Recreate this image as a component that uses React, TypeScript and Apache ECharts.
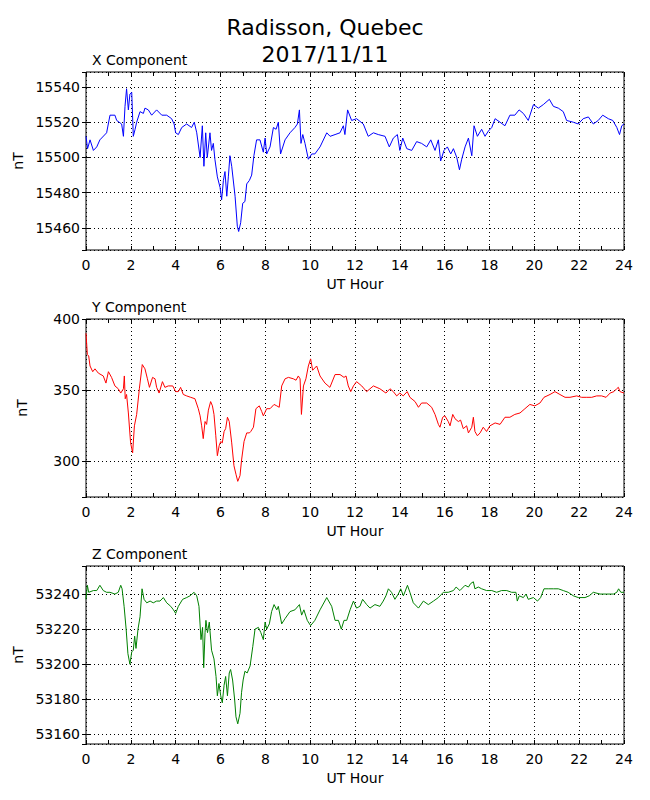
import React, { useEffect, useRef } from "react";
import * as echarts from "echarts";

const FONT = "DejaVu Sans";

const titleLines = ["Radisson, Quebec", "2017/11/11"];
const panelTitles = ["X Component", "Y Component", "Z Component"];
const xAxisName = "UT Hour";
const yAxisName = "nT";

// [UT hour, nT]
const xComponent: [number, number][] = [
  [0, 15512], [0.07, 15505], [0.18, 15510], [0.33, 15504], [0.48, 15506], [0.62, 15510], [0.92, 15514], [1.07, 15524],
  [1.29, 15524], [1.37, 15521], [1.59, 15519], [1.67, 15512], [1.74, 15529], [1.81, 15539], [1.89, 15527], [1.96, 15536],
  [2.04, 15537], [2.11, 15512], [2.19, 15516], [2.26, 15520], [2.41, 15526], [2.56, 15525], [2.63, 15528], [2.78, 15527],
  [2.93, 15524], [3.15, 15527], [3.38, 15524], [3.6, 15524], [3.82, 15522], [3.93, 15519], [4.0, 15514], [4.12, 15513],
  [4.27, 15517], [4.49, 15519], [4.71, 15517], [4.83, 15520], [4.94, 15514], [5.09, 15500], [5.19, 15518], [5.26, 15495],
  [5.34, 15514], [5.41, 15500], [5.53, 15514], [5.6, 15504], [5.68, 15508], [5.75, 15499], [5.86, 15489], [5.98, 15483],
  [6.05, 15476], [6.13, 15487], [6.2, 15492], [6.28, 15478], [6.35, 15489], [6.42, 15501], [6.5, 15495], [6.65, 15478],
  [6.75, 15461], [6.81, 15458], [6.9, 15463], [6.99, 15474], [7.09, 15475], [7.17, 15485], [7.29, 15487], [7.39, 15490],
  [7.49, 15501], [7.61, 15510], [7.76, 15510], [7.91, 15503], [7.99, 15511], [8.06, 15502], [8.21, 15506], [8.36, 15517],
  [8.48, 15516], [8.58, 15520], [8.68, 15502], [8.88, 15510], [9.1, 15514], [9.32, 15517], [9.43, 15519], [9.52, 15527],
  [9.59, 15508], [9.67, 15513], [9.77, 15508], [9.92, 15499], [10.07, 15502], [10.21, 15502], [10.44, 15506], [10.74, 15514],
  [10.89, 15512], [11.11, 15513], [11.33, 15514], [11.48, 15518], [11.55, 15513], [11.67, 15527], [11.85, 15521], [12.07, 15522],
  [12.37, 15519], [12.59, 15512], [12.82, 15514], [13.04, 15513], [13.34, 15512], [13.53, 15506], [13.71, 15511], [13.89, 15513],
  [14.0, 15504], [14.13, 15511], [14.31, 15505], [14.53, 15504], [14.75, 15509], [14.97, 15508], [15.2, 15506], [15.38, 15510],
  [15.57, 15504], [15.72, 15510], [15.82, 15498], [15.97, 15504], [16.12, 15506], [16.27, 15502], [16.39, 15505], [16.54, 15500],
  [16.66, 15493], [16.76, 15499], [16.91, 15506], [17.06, 15511], [17.21, 15501], [17.31, 15518], [17.46, 15512], [17.65, 15516],
  [17.8, 15512], [17.95, 15515], [18.1, 15517], [18.25, 15522], [18.47, 15520], [18.69, 15518], [18.91, 15524], [19.13, 15524],
  [19.32, 15527], [19.51, 15525], [19.73, 15521], [19.96, 15530], [20.18, 15528], [20.4, 15530], [20.67, 15533], [20.85, 15529],
  [21.07, 15528], [21.29, 15526], [21.44, 15521], [21.74, 15520], [21.96, 15519], [22.18, 15522], [22.41, 15523], [22.63, 15519],
  [22.85, 15521], [23.05, 15524], [23.3, 15522], [23.5, 15521], [23.68, 15517], [23.8, 15513], [23.9, 15518], [24, 15519],
];

const yComponent: [number, number][] = [
  [0, 390], [0.06, 375], [0.12, 374], [0.18, 367], [0.3, 363], [0.4, 365], [0.55, 362], [0.77, 360], [0.89, 355], [1.0, 363],
  [1.14, 359], [1.29, 353], [1.44, 351], [1.55, 348], [1.67, 351], [1.71, 360], [1.75, 344], [1.81, 347], [1.89, 334], [1.99, 313],
  [2.08, 306], [2.16, 325], [2.26, 333], [2.38, 351], [2.51, 368], [2.63, 365], [2.74, 358], [2.83, 352], [2.97, 359], [3.08, 358],
  [3.15, 352], [3.26, 348], [3.41, 356], [3.52, 352], [3.67, 353], [3.87, 353], [4.0, 349], [4.12, 349], [4.22, 352], [4.34, 347],
  [4.49, 346], [4.67, 345], [4.86, 344], [5.01, 337], [5.09, 332], [5.16, 325], [5.23, 316], [5.31, 328], [5.38, 326], [5.46, 336],
  [5.56, 342], [5.64, 339], [5.71, 333], [5.79, 318], [5.86, 304], [5.94, 311], [6.01, 314], [6.08, 313], [6.16, 321], [6.23, 323],
  [6.31, 331], [6.39, 328], [6.5, 313], [6.6, 297], [6.69, 291], [6.77, 286], [6.87, 290], [6.94, 301], [7.05, 314], [7.17, 320],
  [7.29, 320], [7.35, 321], [7.47, 324], [7.58, 337], [7.73, 339], [7.84, 335], [7.91, 332], [8.06, 337], [8.21, 337], [8.39, 340],
  [8.51, 339], [8.62, 338], [8.73, 353], [8.88, 358], [9.03, 359], [9.25, 358], [9.37, 357], [9.47, 360], [9.55, 358], [9.61, 333],
  [9.7, 353], [9.81, 358], [9.92, 367], [10.02, 372], [10.11, 364], [10.29, 367], [10.44, 360], [10.66, 355], [10.88, 352], [11.11, 361],
  [11.33, 361], [11.51, 359], [11.6, 360], [11.7, 353], [11.81, 349], [11.93, 353], [12.07, 356], [12.3, 353], [12.52, 349], [12.82, 353],
  [13.11, 351], [13.38, 348], [13.56, 351], [13.71, 349], [13.86, 346], [14.0, 348], [14.15, 346], [14.33, 349], [14.45, 345], [14.68, 342],
  [14.83, 338], [14.97, 341], [15.2, 341], [15.42, 338], [15.57, 333], [15.72, 326], [15.79, 324], [15.91, 331], [16.01, 332], [16.16, 328],
  [16.24, 325], [16.36, 333], [16.46, 330], [16.61, 328], [16.71, 329], [16.83, 323], [16.98, 325], [17.06, 320], [17.21, 324], [17.28, 331],
  [17.35, 321], [17.46, 318], [17.58, 320], [17.72, 324], [17.87, 321], [18.02, 325], [18.25, 327], [18.47, 326], [18.69, 331], [18.91, 331],
  [19.13, 333], [19.36, 334], [19.58, 337], [19.8, 340], [20.02, 339], [20.25, 341], [20.43, 345], [20.7, 347], [20.92, 349], [21.14, 347],
  [21.37, 345], [21.59, 345], [21.89, 346], [22.11, 345], [22.34, 345], [22.56, 345], [22.78, 346], [23.0, 346], [23.2, 345], [23.38, 348],
  [23.55, 349], [23.67, 351], [23.75, 352], [23.82, 349], [24, 348],
];

const zComponent: [number, number][] = [
  [0, 53237], [0.06, 53245], [0.12, 53241], [0.33, 53242], [0.48, 53242], [0.62, 53245], [0.77, 53242], [0.92, 53241], [1.07, 53241],
  [1.29, 53240], [1.44, 53241], [1.55, 53245], [1.61, 53243], [1.7, 53233], [1.79, 53220], [1.87, 53206], [1.96, 53200], [2.04, 53207],
  [2.11, 53208], [2.17, 53216], [2.23, 53209], [2.32, 53220], [2.41, 53227], [2.5, 53243], [2.59, 53237], [2.71, 53235], [2.86, 53236],
  [3.0, 53235], [3.15, 53236], [3.3, 53236], [3.45, 53238], [3.6, 53235], [3.78, 53233], [3.9, 53231], [4.0, 53229], [4.12, 53233],
  [4.31, 53237], [4.49, 53238], [4.64, 53239], [4.82, 53241], [4.94, 53239], [5.04, 53233], [5.13, 53214], [5.2, 53221], [5.25, 53198],
  [5.31, 53218], [5.35, 53225], [5.42, 53218], [5.5, 53224], [5.6, 53208], [5.71, 53203], [5.8, 53193], [5.86, 53182], [5.93, 53189],
  [6.01, 53182], [6.08, 53178], [6.16, 53188], [6.23, 53193], [6.31, 53182], [6.39, 53195], [6.45, 53197], [6.54, 53191], [6.63, 53180],
  [6.69, 53170], [6.77, 53166], [6.87, 53172], [6.94, 53184], [7.01, 53191], [7.09, 53196], [7.19, 53195], [7.32, 53199], [7.44, 53210],
  [7.54, 53220], [7.69, 53221], [7.8, 53218], [7.91, 53214], [7.99, 53224], [8.06, 53220], [8.18, 53223], [8.28, 53230], [8.39, 53234],
  [8.51, 53231], [8.58, 53233], [8.73, 53223], [8.88, 53226], [9.1, 53230], [9.32, 53231], [9.52, 53234], [9.62, 53228], [9.72, 53231],
  [9.87, 53225], [10.02, 53222], [10.21, 53225], [10.44, 53231], [10.74, 53238], [10.96, 53233], [11.11, 53225], [11.26, 53225], [11.39, 53220],
  [11.51, 53225], [11.63, 53225], [11.78, 53231], [11.93, 53236], [12.07, 53232], [12.22, 53233], [12.34, 53237], [12.52, 53234], [12.67, 53232],
  [12.89, 53234], [13.11, 53233], [13.26, 53236], [13.38, 53239], [13.49, 53243], [13.63, 53241], [13.78, 53237], [13.93, 53240], [14.04, 53243],
  [14.16, 53239], [14.34, 53245], [14.45, 53241], [14.6, 53235], [14.83, 53232], [15.05, 53236], [15.27, 53234], [15.5, 53236], [15.72, 53238],
  [15.94, 53241], [16.16, 53241], [16.39, 53242], [16.51, 53244], [16.68, 53242], [16.91, 53245], [17.06, 53244], [17.16, 53246], [17.28, 53247],
  [17.35, 53243], [17.5, 53244], [17.65, 53243], [17.87, 53242], [18.1, 53242], [18.32, 53241], [18.54, 53242], [18.77, 53242], [18.99, 53241],
  [19.18, 53241], [19.24, 53236], [19.33, 53239], [19.51, 53238], [19.63, 53240], [19.73, 53237], [19.96, 53238], [20.14, 53236], [20.28, 53238],
  [20.43, 53243], [20.62, 53243], [20.85, 53243], [21.07, 53243], [21.29, 53242], [21.51, 53241], [21.74, 53239], [21.96, 53238], [22.26, 53238],
  [22.45, 53239], [22.63, 53241], [22.93, 53240], [23.23, 53240], [23.53, 53240], [23.68, 53241], [23.76, 53243], [23.86, 53241], [24, 53241],
];

const seriesData = [xComponent, yComponent, zComponent];
const seriesColors = ["#0000ff", "#ff0000", "#008000"];
const yRanges: [number, number][] = [
  [15447.5, 15548.5],
  [275, 400],
  [53154.5, 53256],
];
const ySplitNumbers = [5, 3, 5];
const showMaxYLabel = [false, true, false];

const GRID_TOPS = [72, 319, 566];
const GRID_LEFT = 86;
const GRID_WIDTH = 538;
const GRID_HEIGHT = 178;

function buildOption() {
  const tick = { show: true, inside: true, length: 4, lineStyle: { color: "#000", width: 1 } };
  const minor = { show: true, splitNumber: 2, length: 4, lineStyle: { color: "#000", width: 1 } };
  const grid = { show: true, lineStyle: { color: "#000", width: 1, type: [1, 3] } };
  const label = { color: "#000", fontSize: 14, fontFamily: FONT, formatter: (v: number) => String(v) };
  const nameStyle = { color: "#000", fontSize: 14, fontFamily: FONT };

  const grids: any[] = [];
  const xAxes: any[] = [];
  const yAxes: any[] = [];
  const series: any[] = [];
  const titles: any[] = titleLines.map((t, k) => ({
    text: t,
    left: "center",
    top: 16 + k * 27,
    padding: 0,
    textStyle: { fontFamily: FONT, fontSize: 22, fontWeight: "normal", color: "#000" },
  }));

  for (let i = 0; i < 3; i++) {
    grids.push({
      left: GRID_LEFT,
      top: GRID_TOPS[i],
      width: GRID_WIDTH,
      height: GRID_HEIGHT,
      show: true,
      borderColor: "#000",
      borderWidth: 1,
      backgroundColor: "transparent",
    });
    titles.push({
      text: panelTitles[i],
      left: 92,
      top: GRID_TOPS[i] - 19,
      padding: 0,
      textStyle: { fontFamily: FONT, fontSize: 14, fontWeight: "normal", color: "#000" },
    });
    xAxes.push({
      type: "value",
      gridIndex: i,
      min: 0,
      max: 24,
      interval: 2,
      position: "bottom",
      axisLine: { show: false },
      axisTick: tick,
      minorTick: minor,
      axisLabel: { ...label, margin: 8 },
      splitLine: grid,
      name: xAxisName,
      nameLocation: "middle",
      nameGap: 27,
      nameTextStyle: nameStyle,
    });
    xAxes.push({
      type: "value",
      gridIndex: i,
      min: 0,
      max: 24,
      interval: 2,
      position: "top",
      axisLine: { show: false },
      axisTick: tick,
      minorTick: minor,
      axisLabel: { show: false },
      splitLine: { show: false },
    });
    const [ymin, ymax] = yRanges[i];
    yAxes.push({
      type: "value",
      gridIndex: i,
      min: ymin,
      max: ymax,
      splitNumber: ySplitNumbers[i],
      position: "left",
      axisLine: { show: false },
      axisTick: tick,
      axisLabel: { ...label, margin: 6, showMinLabel: false, showMaxLabel: showMaxYLabel[i] },
      splitLine: grid,
      name: yAxisName,
      nameLocation: "middle",
      nameGap: 57,
      nameRotate: 90,
      nameTextStyle: nameStyle,
    });
    yAxes.push({
      type: "value",
      gridIndex: i,
      min: ymin,
      max: ymax,
      splitNumber: ySplitNumbers[i],
      position: "right",
      axisLine: { show: false },
      axisTick: tick,
      axisLabel: { show: false },
      splitLine: { show: false },
    });
    series.push({
      type: "line",
      xAxisIndex: 2 * i,
      yAxisIndex: 2 * i,
      data: seriesData[i],
      showSymbol: false,
      symbol: "none",
      lineStyle: { color: seriesColors[i], width: 1 },
      itemStyle: { color: seriesColors[i] },
      z: 5,
    });
  }

  return {
    animation: false,
    backgroundColor: "#ffffff",
    title: titles,
    grid: grids,
    xAxis: xAxes,
    yAxis: yAxes,
    series,
  };
}

export default function App() {
  const ref = useRef<HTMLDivElement>(null);
  useEffect(() => {
    if (!ref.current) return;
    const chart = echarts.init(ref.current, null, { renderer: "svg" });
    chart.setOption(buildOption() as any);
    return () => chart.dispose();
  }, []);
  return (
    <div
      ref={ref}
      style={{ position: "absolute", left: 0, top: 0, width: 650, height: 800 }}
    />
  );
}
